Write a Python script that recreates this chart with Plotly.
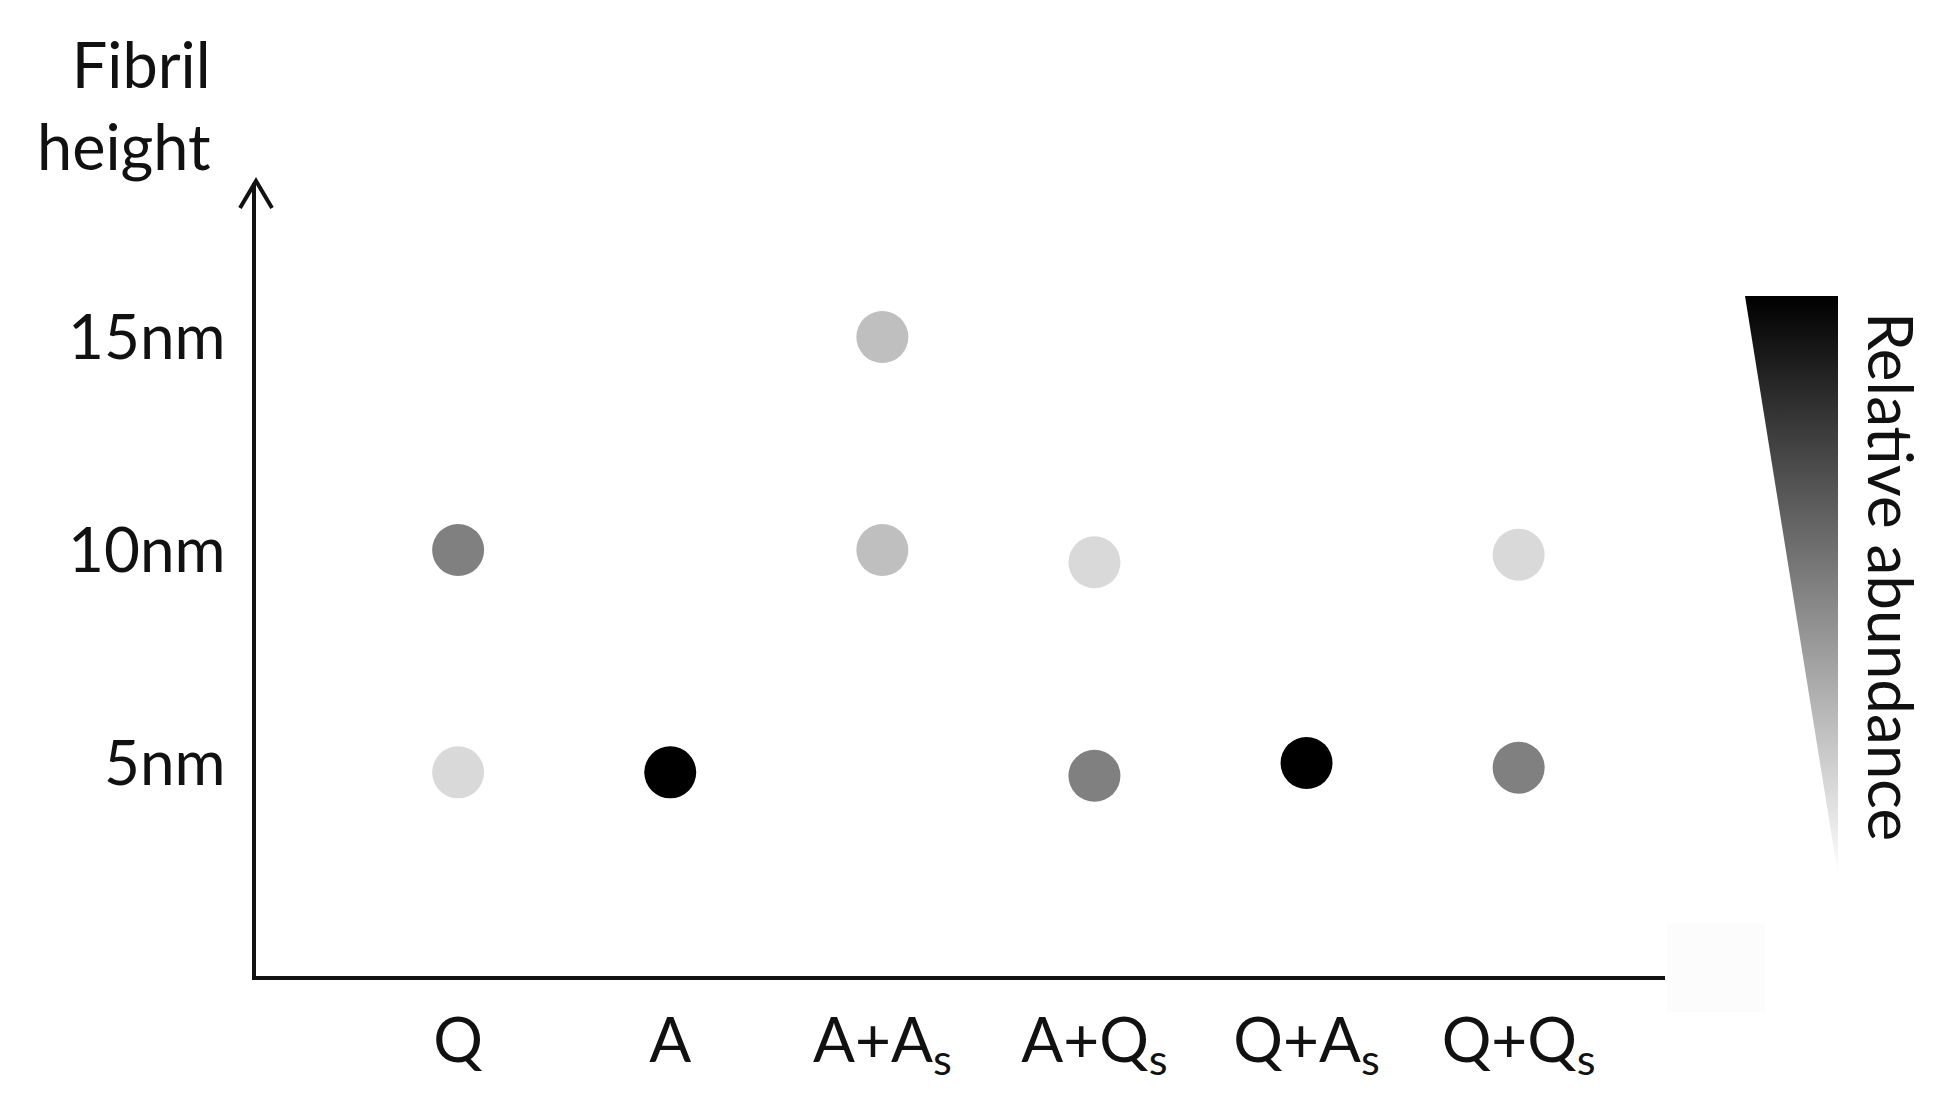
import plotly.graph_objects as go

W, H = 1938, 1100          # browser window
OFF = 8                    # default page margin around the plot div
FIG_W, FIG_H = W - 2 * OFF, H - 2 * OFF
FONT = "Lato"
INK = "#111111"

# ── data ──────────────────────────────────────────────────────────────────────
CATEGORIES = ["Q", "A", "A+A<sub>s</sub>", "A+Q<sub>s</sub>", "Q+A<sub>s</sub>", "Q+Q<sub>s</sub>"]

POINT_SAMPLE = [
    "Q", "Q",
    "A",
    "A+A<sub>s</sub>", "A+A<sub>s</sub>",
    "A+Q<sub>s</sub>", "A+Q<sub>s</sub>",
    "Q+A<sub>s</sub>",
    "Q+Q<sub>s</sub>", "Q+Q<sub>s</sub>",
]
HEIGHT_NM = [10.0, 4.78, 4.78, 15.0, 10.0, 9.71, 4.70, 5.0, 9.89, 4.89]
ABUNDANCE = [0.50, 0.15, 1.00, 0.25, 0.25, 0.15, 0.50, 1.00, 0.15, 0.50]

Y_TICKS = [5, 10, 15]
Y_TICK_TEXT = ["5nm", "10nm", "15nm"]

# gradient wedge (legend for abundance), in page pixels
WEDGE_X = [1745, 1838, 1838, 1745]
WEDGE_Y = [296, 296, 875, 296]


def px_x(x):
    return (x - OFF) / FIG_W


def px_y(y):
    return (FIG_H - (y - OFF)) / FIG_H


fig = go.Figure()

fig.add_trace(go.Scatter(
    x=POINT_SAMPLE, y=HEIGHT_NM,
    mode="markers",
    marker=dict(
        size=52, color=ABUNDANCE, cmin=0, cmax=1,
        colorscale=[[0, "#ffffff"], [1, "#000000"]],
        line=dict(width=0),
    ),
    showlegend=False, hoverinfo="skip",
))

fig.add_trace(go.Scatter(
    x=[v - OFF for v in WEDGE_X], y=[FIG_H - (v - OFF) for v in WEDGE_Y],
    xaxis="x2", yaxis="y2",
    mode="lines", line=dict(width=0),
    fill="toself",
    fillgradient=dict(type="vertical", colorscale=[[0, "#ffffff"], [1, "#000000"]]),
    showlegend=False, hoverinfo="skip",
))

# open arrow head on top of the y axis
fig.add_shape(
    type="path", xref="paper", yref="paper",
    xsizemode="pixel", ysizemode="pixel",
    xanchor=px_x(256), yanchor=px_y(181),
    path="M -16,-27 L 0,0 L 16,-27",
    line=dict(color=INK, width=4),
)

# faint box bottom right (scan artefact)
fig.add_shape(
    type="rect", xref="paper", yref="paper",
    x0=px_x(1667), x1=px_x(1765), y0=px_y(1012), y1=px_y(923),
    fillcolor="#fcfcfc", line=dict(width=0), layer="below",
)

fig.add_annotation(
    text="Fibril<br>height", xref="paper", yref="paper",
    x=px_x(213), y=px_y(24), xanchor="right", yanchor="top",
    align="right", showarrow=False,
    font=dict(family=FONT, size=63, color=INK),
)
fig.add_annotation(
    text="Relative abundance", xref="paper", yref="paper",
    x=px_x(1892), y=px_y(576), xanchor="center", yanchor="middle",
    textangle=90, showarrow=False,
    font=dict(family=FONT, size=62, color=INK),
)

fig.update_layout(
    width=FIG_W, height=FIG_H,
    margin=dict(l=0, r=0, t=0, b=0),
    paper_bgcolor="white", plot_bgcolor="rgba(0,0,0,0)",
    font=dict(family=FONT, size=62, color=INK),
    xaxis=dict(
        domain=[px_x(256), px_x(1665)],
        type="category", categoryorder="array", categoryarray=CATEGORIES,
        range=[-0.953, 5.69],
        showline=True, linecolor=INK, linewidth=4,
        showgrid=False, zeroline=False, ticks="",
        ticklabelstandoff=8,
    ),
    yaxis=dict(
        domain=[px_y(976), px_y(183)],
        range=[0, 18.615],
        tickvals=Y_TICKS, ticktext=Y_TICK_TEXT,
        showline=True, linecolor=INK, linewidth=4,
        showgrid=False, zeroline=False, ticks="",
        ticklabelstandoff=14,
    ),
    xaxis2=dict(domain=[0, 1], range=[0, FIG_W], visible=False, anchor="y2"),
    yaxis2=dict(domain=[0, 1], range=[0, FIG_H], visible=False, anchor="x2"),
)

fig.write_html("out.html")
